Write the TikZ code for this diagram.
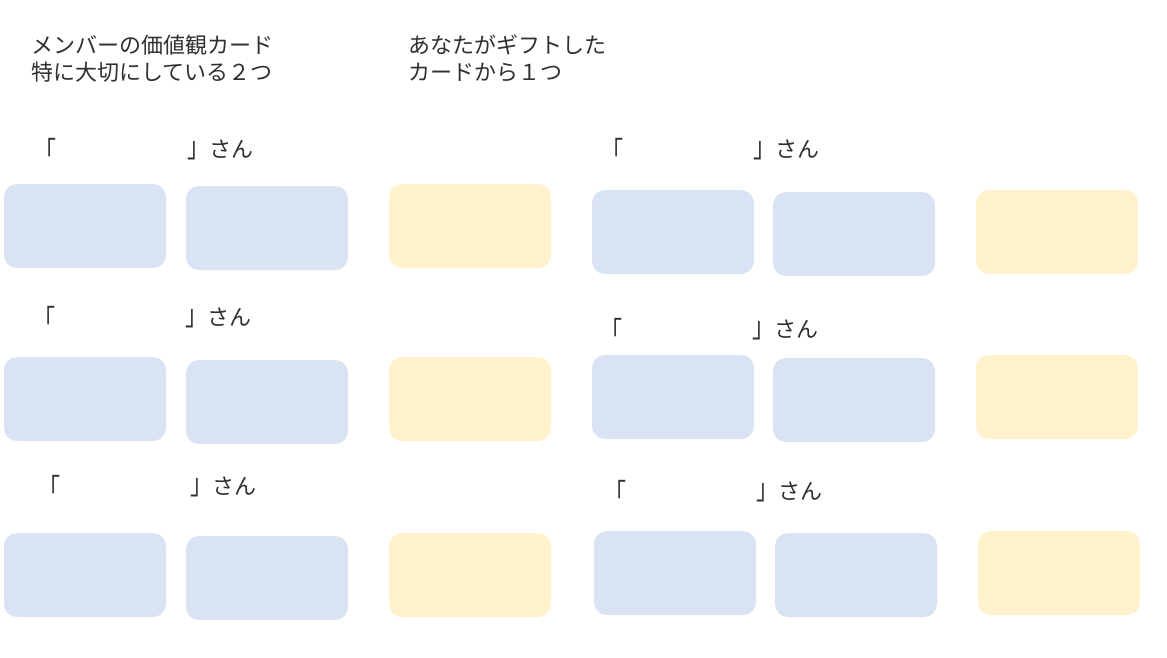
\documentclass[tikz,border=0pt]{standalone}
\usepackage{fontspec}
\setmainfont{Noto Sans CJK JP}
\begin{document}
\begin{tikzpicture}[x=1pt,y=-1pt,
  card/.style={rounded corners=13pt,minimum width=162pt,minimum height=84pt,inner sep=0pt,draw=none},
  bluecard/.style={card,fill=cardblue},
  yelcard/.style={card,fill=cardyellow},
  txt/.style={font=\fontsize{22}{27}\selectfont,text=textgray,inner sep=0pt,align=left},
]
\definecolor{cardblue}{HTML}{DAE3F3}
\definecolor{cardyellow}{HTML}{FFF2CC}
\definecolor{textgray}{HTML}{303030}
\useasboundingbox (0,0) rectangle (1167,657);
\fill[white] (0,0) rectangle (1167,657);
% headers
\node[txt,anchor=north west] (h1) at (31,35) {メンバーの価値観カード\\特に大切にしている２つ};
\node[txt,anchor=north west] (h2) at (408,35) {あなたがギフトした\\カードから１つ};
% left group
\node[bluecard] (a1) at (85,226) {};
\node[bluecard] (b1) at (267,228) {};
\node[yelcard] (y1) at (470,226) {};
\node[bluecard] (a2) at (85,399) {};
\node[bluecard] (b2) at (267,402) {};
\node[yelcard] (y2) at (470,399) {};
\node[bluecard] (a3) at (85,575) {};
\node[bluecard] (b3) at (267,578) {};
\node[yelcard] (y3) at (470,575) {};
% right group
\node[bluecard] (c1) at (673,232) {};
\node[bluecard] (d1) at (854,234) {};
\node[yelcard] (z1) at (1057,232) {};
\node[bluecard] (c2) at (673,397) {};
\node[bluecard] (d2) at (854,400) {};
\node[yelcard] (z2) at (1057,397) {};
\node[bluecard] (c3) at (675,573) {};
\node[bluecard] (d3) at (856,575) {};
\node[yelcard] (z3) at (1059,573) {};
% name labels
\node[txt,anchor=west] (lq1) at (34,150) {\scalebox{1}[1.3]{「}};
\node[txt,anchor=west] (rq1) at (187,150) {\scalebox{1}[1.3]{」}さん};
\node[txt,anchor=west] (lq2) at (33,318) {\scalebox{1}[1.3]{「}};
\node[txt,anchor=west] (rq2) at (185,318) {\scalebox{1}[1.3]{」}さん};
\node[txt,anchor=west] (lq3) at (38,487) {\scalebox{1}[1.3]{「}};
\node[txt,anchor=west] (rq3) at (190,487) {\scalebox{1}[1.3]{」}さん};
\node[txt,anchor=west] (lq4) at (601,150) {\scalebox{1}[1.3]{「}};
\node[txt,anchor=west] (rq4) at (753,150) {\scalebox{1}[1.3]{」}さん};
\node[txt,anchor=west] (lq5) at (600,330) {\scalebox{1}[1.3]{「}};
\node[txt,anchor=west] (rq5) at (752,330) {\scalebox{1}[1.3]{」}さん};
\node[txt,anchor=west] (lq6) at (604,492) {\scalebox{1}[1.3]{「}};
\node[txt,anchor=west] (rq6) at (756,492) {\scalebox{1}[1.3]{」}さん};
\end{tikzpicture}
\end{document}
